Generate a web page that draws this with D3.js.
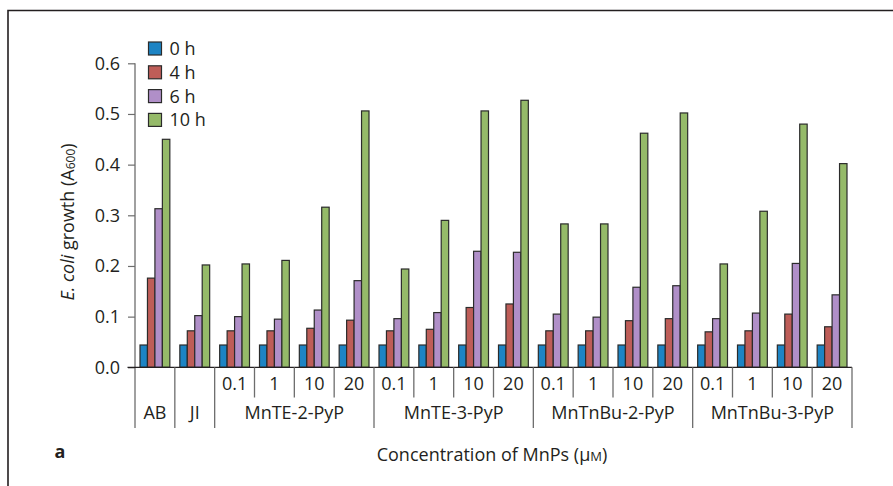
<!DOCTYPE html>
<html>
<head>
<meta charset="utf-8">
<script src="https://cdn.jsdelivr.net/npm/d3@7"></script>
<style>
  html, body { margin: 0; padding: 0; background: #fff; }
  svg { display: block; }
  text { font-family: "Open Sans", "Noto Sans", sans-serif; fill: #231f20; }
</style>
</head>
<body>
<svg id="chart" width="893" height="486"></svg>
<script>
// Treatments: two controls, then four porphyrins at four concentrations each
const controls = ["AB", "JI"];
const compounds = ["MnTE-2-PyP", "MnTE-3-PyP", "MnTnBu-2-PyP", "MnTnBu-3-PyP"];
const concentrations = ["0.1", "1", "10", "20"];

// Time points shown in the legend
const seriesNames = ["0 h", "4 h", "6 h", "10 h"];
const seriesColors = ["#1d84c4", "#be5d58", "#b08fc8", "#95ba69"];

// A600 per cell, in cell order: AB, JI, then each compound x concentration
const growth0h  = [0.044, 0.044, 0.044, 0.044, 0.044, 0.044, 0.044, 0.044, 0.044, 0.044, 0.044, 0.044, 0.044, 0.044, 0.044, 0.044, 0.044, 0.044];
const growth4h  = [0.176, 0.072, 0.072, 0.072, 0.077, 0.093, 0.072, 0.075, 0.118, 0.125, 0.072, 0.072, 0.092, 0.096, 0.070, 0.072, 0.105, 0.080];
const growth6h  = [0.313, 0.102, 0.100, 0.095, 0.113, 0.171, 0.096, 0.108, 0.229, 0.227, 0.105, 0.099, 0.158, 0.161, 0.096, 0.107, 0.205, 0.143];
const growth10h = [0.450, 0.202, 0.204, 0.211, 0.316, 0.506, 0.194, 0.290, 0.506, 0.527, 0.283, 0.283, 0.462, 0.502, 0.204, 0.308, 0.480, 0.402];

const yTicks = [0, 0.1, 0.2, 0.3, 0.4, 0.5, 0.6];

const FS = 18;

// ---- build the cell list ----
const cells = [];
controls.forEach(c => cells.push({ id: c, group: c, conc: null }));
compounds.forEach(g => concentrations.forEach(k => cells.push({ id: g + "|" + k, group: g, conc: k })));
const allSeries = [growth0h, growth4h, growth6h, growth10h];

const svg = d3.select("#chart");

// Panel frame (top and left edges)
svg.append("path")
  .attr("d", "M8,486 V10.5 H893")
  .attr("fill", "none").attr("stroke", "#231f20").attr("stroke-width", 1.6);

const x0 = 135, x1 = 852, yBase = 367.3, yTop = 63.3;
const x = d3.scaleBand().domain(cells.map(d => d.id)).range([x0, x1]).paddingInner(0).paddingOuter(0);
const cellPad = 5;
const xs = d3.scaleBand().domain(d3.range(seriesNames.length)).range([cellPad, x.bandwidth() - cellPad]).padding(0);
const y = d3.scaleLinear().domain([0, 0.6]).range([yBase, yTop]);

// Bars
const cellG = svg.append("g").selectAll("g").data(cells).join("g")
  .attr("transform", d => `translate(${x(d.id)},0)`);
cellG.selectAll("rect")
  .data((d, i) => allSeries.map((s, k) => ({ k, v: s[i] })))
  .join("rect")
  .attr("x", d => xs(d.k))
  .attr("width", xs.bandwidth())
  .attr("y", d => y(d.v))
  .attr("height", d => y(0) - y(d.v))
  .attr("fill", d => seriesColors[d.k])
  .attr("stroke", "#2b2b2b")
  .attr("stroke-width", 1.2);

// Y axis
const yAxis = d3.axisLeft(y).tickValues(yTicks).tickFormat(d3.format(".1f")).tickSize(7).tickPadding(8);
const yg = svg.append("g").attr("transform", `translate(${x0},0)`).call(yAxis);
yg.select(".domain").remove();
yg.selectAll(".tick line").attr("stroke", "#6d6d6d").attr("stroke-width", 1.2);
yg.selectAll(".tick text").attr("font-size", FS).attr("fill", "#231f20")
  .attr("font-family", "'Open Sans', 'Noto Sans', sans-serif");

// vertical axis line continuing down as the first category divider
svg.append("line").attr("x1", x0).attr("x2", x0).attr("y1", yTop).attr("y2", 428)
  .attr("stroke", "#6d6d6d").attr("stroke-width", 1.3);

// baseline
svg.append("line").attr("x1", 127.5).attr("x2", x1).attr("y1", yBase).attr("y2", yBase)
  .attr("stroke", "#231f20").attr("stroke-width", 1.3);

// Category table dividers
const divG = svg.append("g").attr("stroke", "#6d6d6d").attr("stroke-width", 1.3);
cells.forEach((d, i) => {
  const right = x(d.id) + x.bandwidth();
  const next = cells[i + 1];
  const groupEnd = !next || next.group !== d.group;
  divG.append("line").attr("x1", right).attr("x2", right)
    .attr("y1", yBase).attr("y2", groupEnd ? 428 : 397.5);
});

// Concentration labels
svg.append("g").selectAll("text").data(cells.filter(d => d.conc !== null)).join("text")
  .attr("x", d => x(d.id) + x.bandwidth() / 2)
  .attr("y", 389.5)
  .attr("text-anchor", "middle").attr("font-size", FS)
  .text(d => d.conc);

// Group labels
const groups = controls.concat(compounds);
svg.append("g").selectAll("text").data(groups).join("text")
  .attr("x", g => {
    const ids = cells.filter(c => c.group === g).map(c => c.id);
    return (x(ids[0]) + x(ids[ids.length - 1]) + x.bandwidth()) / 2;
  })
  .attr("y", 418.5)
  .attr("text-anchor", "middle").attr("font-size", FS)
  .text(g => g);

// Y axis title
const yt = svg.append("text")
  .attr("transform", "translate(74,222) rotate(-90)")
  .attr("text-anchor", "middle").attr("font-size", FS);
yt.append("tspan").attr("font-style", "italic").text("E. coli");
yt.append("tspan").text(" growth (A");
yt.append("tspan").attr("font-size", 12).attr("dy", 1).text("600");
yt.append("tspan").attr("dy", -1).text(")");

// X axis title
const xt = svg.append("text").attr("x", 492).attr("y", 461)
  .attr("text-anchor", "middle").attr("font-size", FS);
xt.append("tspan").text("Concentration of MnPs (μ");
xt.append("tspan").attr("font-size", 13).text("M");
xt.append("tspan").text(")");

// Panel letter
svg.append("text").attr("x", 60).attr("y", 458).attr("text-anchor", "middle")
  .attr("font-size", 18).attr("font-weight", "bold").text("a");

// Legend
const leg = svg.append("g").selectAll("g").data(seriesNames).join("g")
  .attr("transform", (d, i) => `translate(148.5,${42 + i * 23.8})`);
leg.append("rect").attr("width", 13).attr("height", 13)
  .attr("fill", (d, i) => seriesColors[i]).attr("stroke", "#2b2b2b").attr("stroke-width", 1.2);
leg.append("text").attr("x", 21).attr("y", 13).attr("font-size", FS).text(d => d);
</script>
</body>
</html>
